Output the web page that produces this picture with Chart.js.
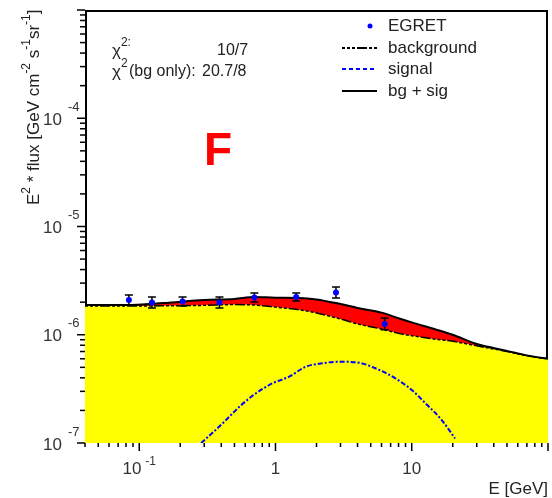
<!DOCTYPE html>
<html>
<head>
<meta charset="utf-8">
<script src="https://cdn.jsdelivr.net/npm/chart.js@4.4.0/dist/chart.umd.min.js"></script>
<style>
  body { margin: 0; background: #fff; }
  #chart { display: block; }
</style>
</head>
<body>
<canvas id="chart" width="552" height="498"></canvas>
<script>
// EGRET points: energy [GeV], E^2 * flux and error bar ends
const egretE = [0.084, 0.124, 0.208, 0.388, 0.70, 1.42, 2.78, 6.33];
const egretFlux = [2.09e-6, 1.99e-6, 2.03e-6, 1.99e-6, 2.21e-6, 2.23e-6, 2.46e-6, 1.26e-6];
const egretHi = [2.33e-6, 2.23e-6, 2.23e-6, 2.23e-6, 2.43e-6, 2.43e-6, 2.76e-6, 1.43e-6];
const egretLo = [1.88e-6, 1.77e-6, 1.84e-6, 1.77e-6, 2.01e-6, 2.05e-6, 2.19e-6, 1.11e-6];

// model curves on a common energy grid
const modelE = [0.04, 0.08, 0.15, 0.3, 0.5, 0.7, 1, 1.5, 2, 3, 4, 6, 8, 10, 15, 20, 30, 50, 70, 100];
const bgFlux = [1.84e-6, 1.84e-6, 1.85e-6, 1.87e-6, 1.90e-6, 1.88e-6, 1.80e-6, 1.70e-6, 1.59e-6, 1.40e-6,
                1.26e-6, 1.13e-6, 1.03e-6, 9.8e-7, 9.1e-7, 8.7e-7, 7.9e-7, 7.0e-7, 6.4e-7, 5.97e-7];
const totalFlux = [1.88e-6, 1.88e-6, 1.96e-6, 2.09e-6, 2.14e-6, 2.23e-6, 2.20e-6, 2.19e-6, 2.12e-6, 1.92e-6,
                   1.77e-6, 1.60e-6, 1.42e-6, 1.30e-6, 1.12e-6, 1.0e-6, 8.2e-7, 7.1e-7, 6.45e-7, 6.0e-7];

// dark matter signal
const sigE = [0.285, 0.41, 0.543, 0.719, 0.95, 1.26, 1.67, 2.20, 2.92, 4.09, 5.41, 7.58, 10.0, 12.6, 16.6, 20.8];
const sigFlux = [1.0e-7, 1.52e-7, 2.16e-7, 2.88e-7, 3.56e-7, 4.10e-7, 5.07e-7, 5.45e-7, 5.64e-7, 5.52e-7,
                 4.90e-7, 3.96e-7, 3.09e-7, 2.33e-7, 1.63e-7, 1.10e-7];

// axis labels
const xTickVals = [0.1, 1, 10];
const xTickBase = ['10', '1', '10'];
const xTickExp = ['-1', '', ''];
const yTickVals = [1e-7, 1e-6, 1e-5, 1e-4];
const yTickExp = ['-7', '-6', '-5', '-4'];

const fitLines = [
    { name: 'χ', sup: '2:', rest: '', value: '10/7', valueX: 217 },
    { name: 'χ', sup: '2', rest: '(bg only):', value: '20.7/8', valueX: 202 }
];

const FONT = '"Liberation Sans", Arial, sans-serif';
const BLUE = '#0000ff';

function toPoints(xs, ys) {
    return xs.map((x, i) => ({ x: x, y: ys[i] }));
}

// frame, drawn first so the fills can cover it
const framePlugin = {
    id: 'frame',
    beforeDraw(chart) {
        const { ctx, chartArea: a } = chart;
        ctx.save();
        ctx.strokeStyle = '#000';
        ctx.lineWidth = 2;
        ctx.strokeRect(a.left + 1, a.top + 1, a.right - a.left - 2, a.bottom - a.top - 2);
        ctx.restore();
    }
};

// vertical error bars under the EGRET markers
const errorBarPlugin = {
    id: 'errorBars',
    beforeDatasetDraw(chart, args) {
        if (args.index !== 0) return;
        const ctx = chart.ctx;
        const xs = chart.scales.x, ys = chart.scales.y;
        ctx.save();
        ctx.strokeStyle = '#000';
        ctx.lineWidth = 1.5;
        egretE.forEach((e, i) => {
            const px = xs.getPixelForValue(e);
            const top = ys.getPixelForValue(egretHi[i]);
            const bot = ys.getPixelForValue(egretLo[i]);
            ctx.beginPath();
            ctx.moveTo(px, top); ctx.lineTo(px, bot);
            ctx.moveTo(px - 4, top); ctx.lineTo(px + 4, top);
            ctx.moveTo(px - 4, bot); ctx.lineTo(px + 4, bot);
            ctx.stroke();
        });
        ctx.restore();
    }
};

function logTicks(scale, cb) {
    const lo = Math.floor(Math.log10(scale.min));
    const hi = Math.ceil(Math.log10(scale.max));
    for (let d = lo; d <= hi; d++) {
        for (let m = 1; m <= 9; m++) {
            const v = m * Math.pow(10, d);
            if (v < scale.min * 0.999 || v > scale.max * 1.001) continue;
            cb(scale.getPixelForValue(v), m === 1);
        }
    }
}

// draw text pieces with superscripts one after the other
function drawRich(ctx, parts, x, y, size) {
    let cx = x;
    parts.forEach(p => {
        const s = p.sup ? Math.round(size * 0.72) : size;
        ctx.font = s + 'px ' + FONT;
        cx += p.gap || 0;
        ctx.fillText(p.t, cx, p.sup ? y - size * 0.45 : y);
        cx += ctx.measureText(p.t).width;
    });
    return cx - x;
}

function richWidth(ctx, parts, size) {
    let w = 0;
    parts.forEach(p => {
        ctx.font = (p.sup ? Math.round(size * 0.72) : size) + 'px ' + FONT;
        w += ctx.measureText(p.t).width + (p.gap || 0);
    });
    return w;
}

const axisPlugin = {
    id: 'axes',
    afterDraw(chart) {
        const ctx = chart.ctx;
        const a = chart.chartArea;
        const xs = chart.scales.x, ys = chart.scales.y;
        ctx.save();

        // tick marks
        ctx.strokeStyle = '#000';
        ctx.lineWidth = 1.5;
        logTicks(xs, (p, major) => {
            ctx.beginPath();
            ctx.moveTo(p, a.bottom);
            ctx.lineTo(p, a.bottom + (major ? 8 : 4));
            ctx.stroke();
        });
        logTicks(ys, (p, major) => {
            ctx.beginPath();
            ctx.moveTo(a.left, p);
            ctx.lineTo(a.left - (major ? 8 : 5), p);
            ctx.stroke();
        });

        // tick labels
        ctx.fillStyle = '#333';
        ctx.textBaseline = 'middle';
        ctx.textAlign = 'left';
        xTickVals.forEach((v, i) => {
            const parts = [{ t: xTickBase[i] }];
            if (xTickExp[i]) parts.push({ t: xTickExp[i], sup: true, gap: 4 });
            const w = richWidth(ctx, parts, 17);
            drawRich(ctx, parts, xs.getPixelForValue(v) - w / 2, a.bottom + 26, 17);
        });
        yTickVals.forEach((v, i) => {
            const p = ys.getPixelForValue(v);
            ctx.font = '17px ' + FONT;
            ctx.textAlign = 'right';
            ctx.fillText('10', 62, p + 2);
            ctx.font = '13px ' + FONT;
            ctx.textAlign = 'left';
            ctx.fillText(yTickExp[i], 68, p - 11);
        });

        // axis titles
        ctx.fillStyle = '#222';
        ctx.font = '17px ' + FONT;
        ctx.textAlign = 'right';
        ctx.fillText('E [GeV]', a.right, 489);

        ctx.save();
        ctx.translate(34, 205);
        ctx.rotate(-Math.PI / 2);
        ctx.textAlign = 'left';
        drawRich(ctx, [
            { t: 'E' }, { t: '2', sup: true }, { t: ' * flux [GeV cm' }, { t: '-2', sup: true },
            { t: ' s' }, { t: '-1', sup: true }, { t: 'sr' }, { t: '-1', sup: true }, { t: ']' }
        ], 0, 0, 17);
        ctx.restore();

        // fit quality text
        ctx.textAlign = 'left';
        fitLines.forEach((f, i) => {
            const y = 51 + i * 21;
            ctx.font = '17px ' + FONT;
            ctx.fillText(f.name, 112, y);
            const x = 112 + ctx.measureText(f.name).width;
            ctx.font = '12px ' + FONT;
            ctx.fillText(f.sup, x, y - 8);
            ctx.font = '16px ' + FONT;
            if (f.rest) ctx.fillText(f.rest, 129, y);
            ctx.fillText(f.value, f.valueX, y);
        });

        // big panel letter
        ctx.fillStyle = '#ff0000';
        ctx.font = 'bold 46px ' + FONT;
        ctx.textBaseline = 'alphabetic';
        ctx.fillText('F', 204, 165);

        // legend
        const legendY = [26, 48, 69, 91];
        const sets = chart.data.datasets;
        const legendOrder = [0, 2, 3, 1];
        ctx.textBaseline = 'middle';
        ctx.font = '17px ' + FONT;
        legendOrder.forEach((di, k) => {
            const ds = sets[di];
            const y = legendY[k];
            if (di === 0) {
                ctx.fillStyle = BLUE;
                ctx.beginPath();
                ctx.arc(370, y, 2.5, 0, Math.PI * 2);
                ctx.fill();
            } else {
                ctx.strokeStyle = ds.borderColor;
                ctx.lineWidth = 2;
                ctx.setLineDash(di === 3 ? [4, 3] : (ds.borderDash || []));
                ctx.beginPath();
                ctx.moveTo(342, y);
                ctx.lineTo(377, y);
                ctx.stroke();
                ctx.setLineDash([]);
            }
            ctx.fillStyle = '#222';
            ctx.fillText(ds.label, 388, y);
        });

        ctx.restore();
    }
};

new Chart(document.getElementById('chart'), {
    type: 'line',
    data: {
        datasets: [
            {
                label: 'EGRET',
                data: toPoints(egretE, egretFlux),
                showLine: false,
                pointRadius: 3,
                pointBackgroundColor: BLUE,
                pointBorderWidth: 0
            },
            {
                label: 'bg + sig',
                data: toPoints(modelE, totalFlux),
                borderColor: '#000',
                borderWidth: 2,
                pointRadius: 0,
                cubicInterpolationMode: 'monotone',
                fill: 2,
                backgroundColor: '#ff0000'
            },
            {
                label: 'background',
                data: toPoints(modelE, bgFlux),
                borderColor: '#000',
                borderWidth: 1.5,
                borderDash: [3, 2, 3, 2, 3, 2, 10, 2],
                pointRadius: 0,
                cubicInterpolationMode: 'monotone',
                fill: 'start',
                backgroundColor: '#ffff00'
            },
            {
                label: 'signal',
                data: toPoints(sigE, sigFlux),
                borderColor: BLUE,
                borderWidth: 2,
                borderDash: [5, 2, 2, 2],
                pointRadius: 0,
                cubicInterpolationMode: 'monotone',
                fill: false
            }
        ]
    },
    options: {
        responsive: false,
        animation: false,
        events: [],
        layout: { padding: { left: 85, top: 10, right: 2, bottom: 55 } },
        scales: {
            x: { type: 'logarithmic', min: 0.04, max: 100, display: false },
            y: { type: 'logarithmic', min: 1e-7, max: 1e-3, display: false }
        },
        plugins: {
            legend: { display: false },
            tooltip: { enabled: false },
            filler: { drawTime: 'beforeDatasetsDraw' }
        }
    },
    plugins: [framePlugin, errorBarPlugin, axisPlugin]
});
</script>
</body>
</html>
